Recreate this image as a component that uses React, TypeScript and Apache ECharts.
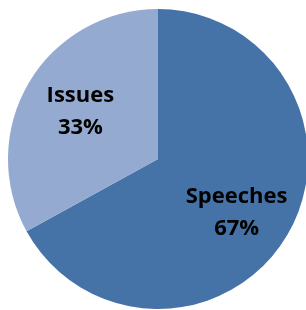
import React, { useEffect, useRef } from "react";
import * as echarts from "echarts";

const categories = ["Speeches", "Issues"];
const values = [67, 33];
const colors = ["#4673A7", "#95AAD0"];
const labelOffsets = [[-4, 2], [5, -1]];

export default function App() {
  const ref = useRef<HTMLDivElement>(null);
  useEffect(() => {
    if (!ref.current) return;
    const chart = echarts.init(ref.current, undefined, { renderer: "svg" });
    const data = categories.map((c, i) => ({ name: c, value: values[i] }));
    chart.setOption({
      animation: false,
      series: [
        {
          type: "pie",
          center: [158, 159],
          radius: [0, 150],
          startAngle: 90,
          clockwise: true,
          silent: true,
          data: data.map((d, i) => ({ ...d, itemStyle: { color: colors[i] } })),
          label: { show: false },
          labelLine: { show: false },
        },
        {
          type: "pie",
          center: [158, 159],
          radius: [0, 186],
          startAngle: 90,
          clockwise: true,
          silent: true,
          data: data.map((d, i) => ({
            ...d,
            itemStyle: { color: "transparent" },
            label: { offset: labelOffsets[i] },
          })),
          label: {
            show: true,
            position: "inside",
            formatter: "{b}\n{c}%",
            color: "#000",
            fontFamily: "Open Sans",
            fontWeight: "bold",
            fontSize: 22,
            lineHeight: 32,
            align: "center",
          },
          labelLine: { show: false },
        },
      ],
    });
    return () => chart.dispose();
  }, []);
  return (
    <div
      ref={ref}
      style={{ position: "fixed", left: 0, top: 0, width: 306, height: 310 }}
    />
  );
}
